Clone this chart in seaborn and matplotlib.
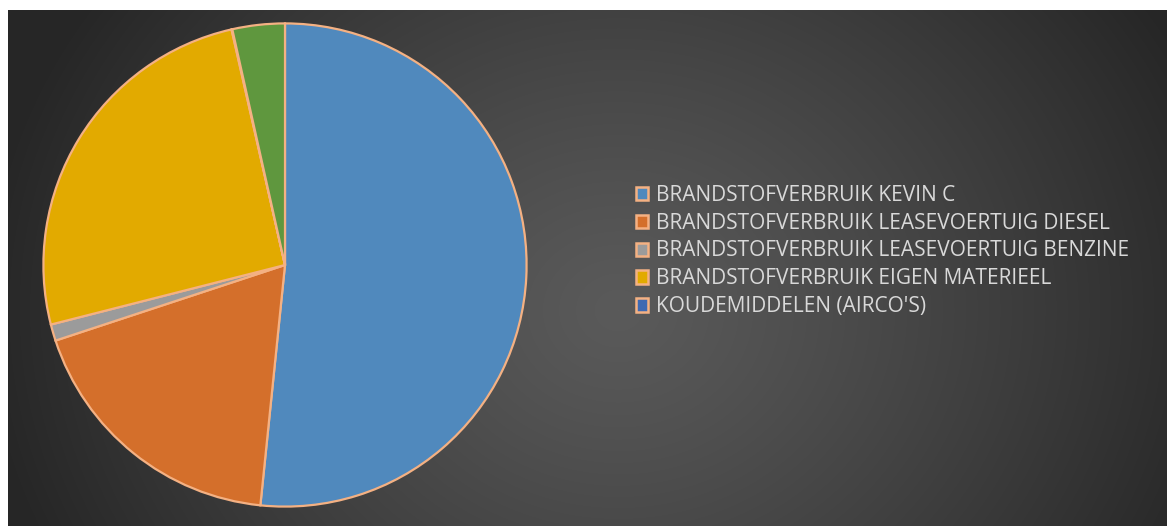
import numpy as np
import matplotlib
matplotlib.use("Agg")
import matplotlib.pyplot as plt
import seaborn as sns
from matplotlib.patches import Patch

categories = [
    "BRANDSTOFVERBRUIK KEVIN C",
    "BRANDSTOFVERBRUIK LEASEVOERTUIG DIESEL",
    "BRANDSTOFVERBRUIK LEASEVOERTUIG BENZINE",
    "BRANDSTOFVERBRUIK EIGEN MATERIEEL",
    "KOUDEMIDDELEN (AIRCO'S)",
    "OVERIG",
]
values = [51.6, 18.3, 1.1, 25.4, 0.05, 3.5]
legend_count = 5
colors = ["#5089BD", "#D46F2B", "#9B9B9B", "#E2AA00", "#3F69B2", "#5F973E"]
edge = "#F4B183"

sns.set_theme(style="white")
plt.rcParams['font.family'] = ['Open Sans', 'DejaVu Sans']

W, H = 1167, 526
fig = plt.figure(figsize=(W / 100, H / 100), dpi=100)
fig.patch.set_facecolor("white")

# gradient background
bx0, by0 = 8, 10
bg = fig.add_axes([bx0 / W, 0, 1 - bx0 / W, 1 - by0 / H])
bw, bh = W - bx0, H - by0
yy, xx = np.mgrid[0:bh, 0:bw]
cx, cy = 610, 300
d = np.sqrt((xx - cx) ** 2 + ((yy - cy) * 1.15) ** 2)
t = np.clip(d / 640, 0, 1)
lo, hi = 0x5A / 255, 0x26 / 255
v = lo + (hi - lo) * t ** 1.2
img = np.dstack([v, v, v])
bg.imshow(img, aspect="auto", extent=[0, bw, bh, 0])
bg.set_axis_off()

# pie
cxp, cyp, r = 285, 265, 244
ax = fig.add_axes([(cxp - r) / W, (H - cyp - r) / H, 2 * r / W, 2 * r / H])
ax.pie(values, colors=colors, startangle=90, counterclock=False,
       wedgeprops=dict(edgecolor=edge, linewidth=1.6))
ax.set_aspect("equal")
ax.set_xlim(-1.01, 1.01)
ax.set_ylim(-1.01, 1.01)
ax.set_axis_off()

handles = [Patch(facecolor=colors[i], edgecolor=edge, linewidth=1.8, label=categories[i])
           for i in range(legend_count)]
leg = fig.legend(handles=handles, loc="center left",
                 bbox_to_anchor=(636 / W, 1 - 251 / H), frameon=False,
                 fontsize=15, labelcolor="#D9D9D9", handlelength=0.6, handleheight=0.6,
                 handletextpad=0.35, labelspacing=0.33, borderpad=0, borderaxespad=0)

fig.savefig("out.png", dpi=100, facecolor="white")
